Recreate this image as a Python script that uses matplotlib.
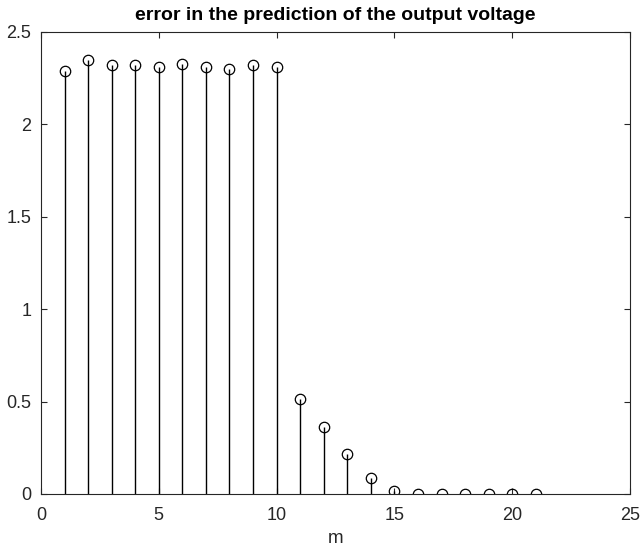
import matplotlib
matplotlib.use("Agg")
import matplotlib.pyplot as plt
import numpy as np

plt.rcParams['font.family'] = ['Liberation Sans', 'DejaVu Sans']

m = list(range(1, 22))
err = [2.29, 2.35, 2.32, 2.32, 2.31, 2.325, 2.31, 2.30, 2.32, 2.31,
       0.516, 0.364, 0.216, 0.088, 0.015, 0.002, 0.001, 0.001, 0.001, 0.001, 0.001]
xticks = [0, 5, 10, 15, 20, 25]
yticks = [0, 0.5, 1, 1.5, 2, 2.5]
ytick_labels = ['0', '0.5', '1', '1.5', '2', '2.5']

fig = plt.figure(figsize=(6.42, 5.49), dpi=100)
ax = fig.add_axes([41/642, 1 - 494/549, (630 - 41)/642, (494 - 32)/549])

ml, sl, bl = ax.stem(m, err, linefmt='k-', markerfmt='ko', basefmt='k-')
ml.set_markerfacecolor('none')
ml.set_markeredgecolor('black')
ml.set_markersize(7.5)
ml.set_markeredgewidth(0.9)
sl.set_linewidth(1.0)
bl.set_visible(False)

ax.set_xlim(0, 25)
ax.set_ylim(0, 2.5)
ax.set_xticks(xticks)
ax.set_yticks(yticks)
ax.set_yticklabels(ytick_labels)
ax.tick_params(direction='in', top=True, right=True, length=4, width=0.8,
               labelsize=13, colors='#262626', labelcolor='#262626')
ax.tick_params(axis='y', pad=7)
ax.tick_params(axis='x', pad=9)
for s in ax.spines.values():
    s.set_color('#262626')
    s.set_linewidth(0.8)
ax.set_xlabel('m', fontsize=13.5, color='#262626', labelpad=5)
ax.set_title('error in the prediction of the output voltage', fontsize=14,
             fontweight='bold', pad=9)

fig.savefig('out.png', dpi=100)
